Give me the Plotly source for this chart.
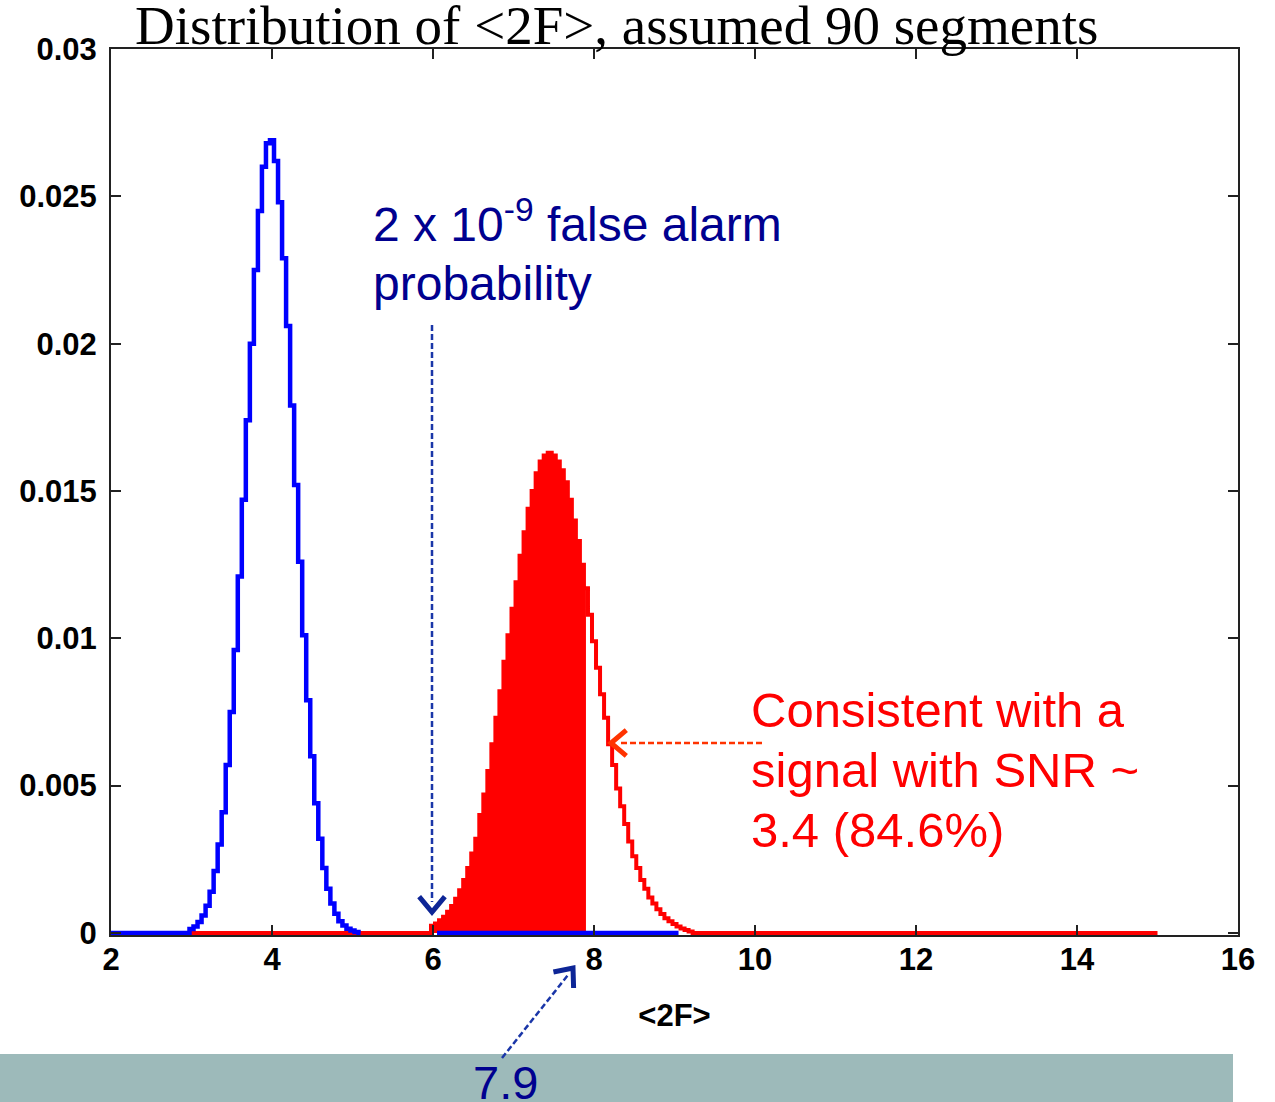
import math
import plotly.graph_objects as go

# ---------------- data ----------------
blue_x = [2.00, 2.95,
          3.00, 3.05, 3.10, 3.15, 3.20, 3.25, 3.30, 3.35, 3.40, 3.45,
          3.50, 3.55, 3.60, 3.65, 3.70, 3.75, 3.80, 3.85, 3.90, 3.95,
          4.00, 4.05, 4.10, 4.15, 4.20, 4.25, 4.30, 4.35, 4.40, 4.45,
          4.50, 4.55, 4.60, 4.65, 4.70, 4.75, 4.80, 4.85, 4.90, 4.95,
          5.00, 5.05, 5.10, 5.50, 6.05, 9.05]
blue_y = [0.0, 0.0,
          0.00013, 0.00022, 0.00037, 0.00059, 0.00092, 0.0014, 0.0021, 0.0030, 0.0041, 0.0057,
          0.0075, 0.0096, 0.0121, 0.0147, 0.0174, 0.0200, 0.0225, 0.0245, 0.0260, 0.0268,
          0.0269, 0.0262, 0.0248, 0.0229, 0.0206, 0.0179, 0.0152, 0.0126, 0.0101, 0.0079,
          0.0060, 0.0044, 0.0032, 0.0022, 0.0015, 0.0010, 0.00065, 0.0004, 0.00025, 0.00014,
          0.00008, 0.00003, 0.0, None, 0.0, 0.0]

red_x = [2.00, 5.95,
         6.00, 6.05, 6.10, 6.15, 6.20, 6.25, 6.30, 6.35, 6.40, 6.45,
         6.50, 6.55, 6.60, 6.65, 6.70, 6.75, 6.80, 6.85, 6.90, 6.95,
         7.00, 7.05, 7.10, 7.15, 7.20, 7.25, 7.30, 7.35, 7.40, 7.45,
         7.50, 7.55, 7.60, 7.65, 7.70, 7.75, 7.80, 7.85, 7.90, 7.95,
         8.00, 8.05, 8.10, 8.15, 8.20, 8.25, 8.30, 8.35, 8.40, 8.45,
         8.50, 8.55, 8.60, 8.65, 8.70, 8.75, 8.80, 8.85, 8.90, 8.95,
         9.00, 9.05, 9.10, 9.15, 9.20, 9.25, 15.00]
red_y = [0.0, 0.0,
         0.00024, 0.00032, 0.00043, 0.00055, 0.00072, 0.00091, 0.00116, 0.00145, 0.0018, 0.0022,
         0.0027, 0.0032, 0.0040, 0.0047, 0.0055, 0.0064, 0.0073, 0.0082, 0.0092, 0.0101,
         0.0110, 0.0119, 0.0128, 0.0136, 0.0144, 0.0150, 0.0156, 0.0160, 0.0162, 0.0163,
         0.0162, 0.0160, 0.0157, 0.0153, 0.0147, 0.0140, 0.0133, 0.0125, 0.0117, 0.0108,
         0.0099, 0.0090, 0.0081, 0.0073, 0.0064, 0.0057, 0.0049, 0.0043, 0.0037, 0.0031,
         0.0026, 0.0022, 0.0018, 0.0015, 0.0012, 0.0010, 0.0008, 0.00064, 0.0005, 0.0004,
         0.0003, 0.00022, 0.00015, 0.0001, 0.00005, 0.0, 0.0]

threshold_2F = 7.9          # observed <2F>
fill_start = 6.0

x_ticks = [2, 4, 6, 8, 10, 12, 14, 16]
y_ticks = [0, 0.005, 0.01, 0.015, 0.02, 0.025, 0.03]
y_tick_text = ["0", "0.005", "0.01", "0.015", "0.02", "0.025", "0.03"]

title_text = "Distribution of &lt;2F&gt;, assumed 90 segments"
xlabel_text = "&lt;2F&gt;"
blue_lines = ["2 x 10<sup>-9</sup> false alarm", "probability"]
red_lines = ["Consistent with a", "signal with SNR ~", "3.4 (84.6%)"]
value_note = "7.9"

# ---------------- layout geometry ----------------
W, H = 1275, 1102
L, R, T, B = 111, 1238, 49, 935

def pxx(p):
    return (p - L) / (R - L)

def pxy(p):
    return (B - p) / (B - T)

fill_x = [x for x in red_x if fill_start - 1e-9 <= x <= threshold_2F + 1e-9]
fill_y = [red_y[red_x.index(x)] for x in fill_x]

fig = go.Figure()
fig.add_trace(go.Scatter(x=fill_x, y=fill_y, mode="lines", line=dict(width=0, shape="hvh"),
                         fill="tozeroy", fillcolor="#ff0000", hoverinfo="skip", showlegend=False))
fig.add_trace(go.Scatter(x=red_x, y=red_y, mode="lines",
                         line=dict(color="#ff0000", width=4, shape="hvh"), showlegend=False))
fig.add_trace(go.Scatter(x=blue_x, y=blue_y, mode="lines", connectgaps=False,
                         line=dict(color="#0000ff", width=4.5, shape="hvh"), showlegend=False))

tickfont = dict(family="Liberation Sans, Arial", size=31, color="black", weight="bold")
axis_common = dict(showgrid=False, zeroline=False, showline=True, linecolor="#222222",
                   linewidth=2, mirror="ticks", ticks="inside", ticklen=10, tickwidth=1.5,
                   tickcolor="#222222", tickfont=tickfont)

fig.update_xaxes(range=[2, 16], tickvals=x_ticks, ticklabelstandoff=-4,
                 title=dict(text=xlabel_text, font=tickfont, standoff=28), **axis_common)
fig.update_yaxes(range=[-0.00007, 0.03], tickvals=y_ticks, ticktext=y_tick_text,
                 ticklabelstandoff=6, **axis_common)

shapes = []
# bottom teal band
shapes.append(dict(type="rect", xref="paper", yref="paper", x0=pxx(-5), x1=pxx(1233),
                   y0=pxy(1054), y1=pxy(1110), fillcolor="#9dbaba", line=dict(width=0),
                   layer="below"))

def dashed(p0, p1, color):
    return dict(type="line", xref="paper", yref="paper", x0=pxx(p0[0]), y0=pxy(p0[1]),
                x1=pxx(p1[0]), y1=pxy(p1[1]), line=dict(color=color, width=2.5, dash="6px,3px"))

def chevron(tip, frm, color, size=20, ang=40):
    dx, dy = tip[0] - frm[0], tip[1] - frm[1]
    n = math.hypot(dx, dy)
    ux, uy = dx / n, dy / n
    pts = []
    for s in (1, -1):
        a = math.radians(ang * s)
        rx = ux * math.cos(a) - uy * math.sin(a)
        ry = ux * math.sin(a) + uy * math.cos(a)
        pts.append((tip[0] - size * rx, tip[1] - size * ry))
    path = "M {} {} L {} {} L {} {}".format(
        pxx(pts[0][0]), pxy(pts[0][1]), pxx(tip[0]), pxy(tip[1]), pxx(pts[1][0]), pxy(pts[1][1]))
    return dict(type="path", xref="paper", yref="paper", path=path,
                line=dict(color=color, width=5))

navy_line = "#1a36a8"
navy_head = "#0d2596"
orange_red = "#ff3300"

shapes.append(dashed((432, 325), (432, 902), navy_line))
shapes.append(chevron((432, 912), (432, 325), navy_head))
shapes.append(dashed((762, 743), (618, 743), orange_red))
shapes.append(chevron((611, 743), (762, 743), orange_red))
shapes.append(dashed((502, 1058), (568, 975), navy_line))
shapes.append(chevron((573, 968), (502, 1058), navy_head))

def line_note(text, x, baseline, size, color, xanchor="left", family="Liberation Sans, Arial"):
    return dict(text=text, xref="paper", yref="paper", x=pxx(x), y=pxy(baseline - 0.35 * size),
                xanchor=xanchor, yanchor="middle", showarrow=False,
                font=dict(family=family, size=size, color=color))

annotations = [line_note(title_text, 616, 45, 55, "black", xanchor="center",
                         family="Liberation Serif, Times New Roman")]
for txt, bl in zip(blue_lines, [238, 300]):
    annotations.append(line_note(txt, 371, bl, 48, "#00008f"))
for txt, bl in zip(red_lines, [727, 787, 847]):
    annotations.append(line_note(txt, 749, bl, 49, "#ff0000"))
annotations.append(line_note(value_note, 505, 1099, 47, "#00008f", xanchor="center"))

fig.update_layout(width=W, height=H, margin=dict(l=L, r=W - R, t=T, b=H - B),
                  plot_bgcolor="white", paper_bgcolor="white",
                  shapes=shapes, annotations=annotations, showlegend=False)

fig.write_html("out.html")
